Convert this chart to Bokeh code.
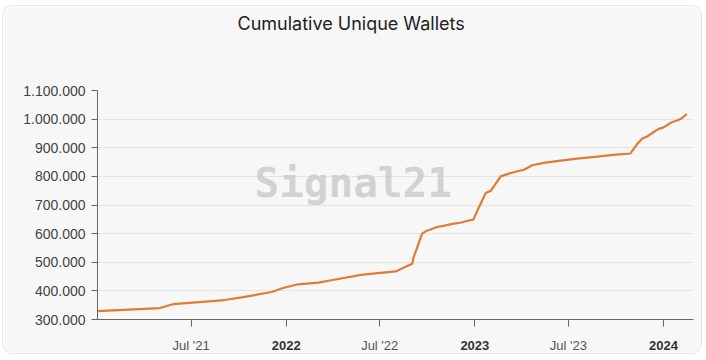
import pandas as pd
from bokeh.plotting import figure
from bokeh.models import FixedTicker, DatetimeAxis, Range1d, Title
from bokeh.embed import file_html
from bokeh.resources import INLINE
from bokeh.core.properties import value

# ---- data ----
dates = [
    "2021-01-01", "2021-05-02", "2021-05-28", "2021-09-04", "2021-10-10",
    "2021-12-04", "2021-12-26", "2022-01-24", "2022-03-04", "2022-03-29",
    "2022-05-26", "2022-06-27", "2022-08-01", "2022-08-20", "2022-09-02",
    "2022-09-04", "2022-09-21", "2022-09-28", "2022-10-20", "2022-11-01",
    "2022-11-21", "2022-12-04", "2022-12-20", "2022-12-29", "2023-01-09",
    "2023-01-22", "2023-02-01", "2023-02-20", "2023-03-05", "2023-03-24",
    "2023-04-06", "2023-04-22", "2023-05-14", "2023-06-16", "2023-07-18",
    "2023-08-26", "2023-09-26", "2023-10-29", "2023-11-11", "2023-11-21",
    "2023-11-30", "2023-12-13", "2023-12-23", "2024-01-01", "2024-01-17",
    "2024-01-30", "2024-02-06", "2024-02-15",
]
wallets = [
    329000, 340000, 354000, 368000, 378000,
    396000, 410000, 423000, 429000, 437000,
    456000, 462000, 468000, 484000, 495000,
    514000, 600000, 608000, 623000, 627000,
    635000, 638000, 646000, 649000, 692000,
    742000, 750000, 800000, 808000, 818000,
    823000, 839000, 847000, 855000, 862000,
    869000, 875000, 880000, 913000, 932000,
    939000, 955000, 966000, 971000, 989000,
    997000, 1004000, 1018000,
]
y_ticks = [300000, 400000, 500000, 600000, 700000, 800000, 900000, 1000000, 1100000]
y_tick_labels = ["300.000", "400.000", "500.000", "600.000", "700.000",
                 "800.000", "900.000", "1.000.000", "1.100.000"]
x_mid_dates = ["2021-07-01", "2022-07-01", "2023-07-01"]
x_mid_labels = ["Jul '21", "Jul '22", "Jul '23"]
x_year_dates = ["2022-01-01", "2023-01-01", "2024-01-01"]
x_year_labels = ["2022", "2023", "2024"]
x_start, x_end = "2021-01-01", "2024-02-28"
title_text = "Cumulative Unique Wallets"
watermark = "Signal21"


def ms(d):
    return int(pd.Timestamp(d).value // 10**6)


x = pd.to_datetime(dates)

p = figure(
    width=700, height=349,
    x_axis_type="datetime",
    x_range=Range1d(ms(x_start), ms(x_end)),
    y_range=Range1d(y_ticks[0], y_ticks[-1]),
    output_backend="svg", toolbar_location=None,
    title_location=None,
    min_border_left=94, min_border_right=10, min_border_top=84, min_border_bottom=33,
)
p.styles = {"border": "1px solid #e6e6e6", "border-radius": "10px",
            "overflow": "hidden", "margin-left": "2px", "margin-top": "5px"}

p.background_fill_color = "#f7f7f7"
p.border_fill_color = "#f7f7f7"
p.outline_line_color = None

# spacer between the title and the plot area, then the title itself
p.add_layout(Title(text=" ", text_font_size="37px", standoff=10), "above")
p.add_layout(Title(text=title_text, align="left", offset=140,
                   text_font="Inter", text_font_size="18px",
                   text_font_style="normal", text_color="#222222", standoff=7), "above")

# watermark (behind the line)
xr0, xr1 = ms(x_start), ms(x_end)
p.text(x=[xr0 + 0.429 * (xr1 - xr0)], y=[778000], text=[watermark],
       text_font=value("DejaVu Sans Mono"), text_font_style="bold",
       text_font_size="41px", text_color="#cccccc", text_alpha=0.85,
       text_align="center", text_baseline="middle")

p.line(x=x, y=wallets, line_color="#e07a35", line_width=2.2)

# grid
p.xgrid.visible = False
yt = FixedTicker(ticks=y_ticks)
p.ygrid.ticker = yt
p.ygrid.grid_line_color = "#e4e4e4"
p.ygrid.grid_line_width = 1

label_font = "Liberation Sans"

# y axis
ya = p.yaxis[0]
ya.ticker = yt
ya.major_label_overrides = dict(zip(y_ticks, y_tick_labels))
ya.major_label_text_font = label_font
ya.major_label_text_font_size = "14px"
ya.major_label_text_color = "#444444"
ya.axis_line_color = "#666666"
ya.major_tick_line_color = "#666666"
ya.major_tick_out = 6
ya.major_tick_in = 0
ya.minor_tick_line_color = None
ya.major_label_standoff = 6

# x axis (Jul labels + all ticks)
mid_ms = [ms(d) for d in x_mid_dates]
year_ms = [ms(d) for d in x_year_dates]
xa = p.xaxis[0]
xa.ticker = FixedTicker(ticks=sorted(mid_ms + year_ms))
ov = dict(zip(mid_ms, x_mid_labels))
ov.update({t: "" for t in year_ms})
xa.major_label_overrides = ov
xa.major_label_text_font = label_font
xa.major_label_text_font_size = "13px"
xa.major_label_text_color = "#555555"
xa.axis_line_color = "#666666"
xa.major_tick_line_color = "#666666"
xa.major_tick_out = 7
xa.major_tick_in = 0
xa.minor_tick_line_color = None
xa.major_label_standoff = 11

# second x axis: bold year labels, overlaid on the first one
xb = DatetimeAxis(ticker=FixedTicker(ticks=year_ms))
xb.major_label_overrides = dict(zip(year_ms, x_year_labels))
xb.major_label_text_font = label_font
xb.major_label_text_font_size = "13px"
xb.major_label_text_font_style = "bold"
xb.major_label_text_color = "#333333"
xb.axis_line_color = None
xb.major_tick_line_color = None
xb.minor_tick_line_color = None
xb.major_tick_out = 0
xb.major_tick_in = 0
xb.major_label_standoff = -15
p.add_layout(xb, "below")

open("out.html", "w").write(file_html(p, INLINE))
